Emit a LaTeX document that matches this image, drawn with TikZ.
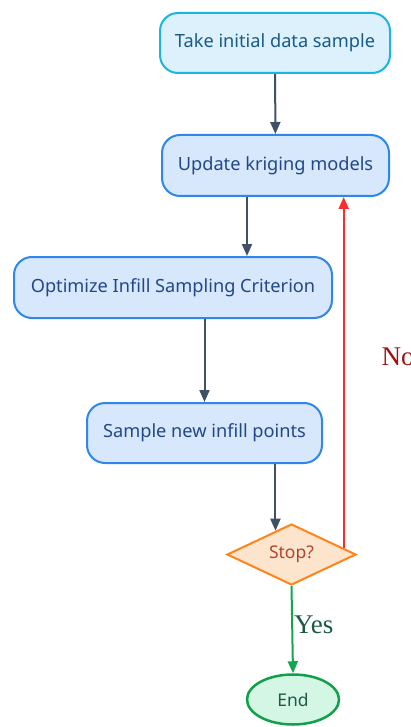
\documentclass[tikz,border=0pt]{standalone}
\usepackage{fontspec}
\newfontfamily\boxfont{Noto Sans}
\newfontfamily\answerfont{Liberation Serif}
\usetikzlibrary{shapes.geometric,arrows.meta}
\definecolor{takefill}{HTML}{DCF1FB}
\definecolor{takeline}{HTML}{19B5E5}
\definecolor{takefont}{HTML}{1B5A86}
\definecolor{stepfill}{HTML}{D7E7FC}
\definecolor{stepline}{HTML}{2F86EB}
\definecolor{stepfont}{HTML}{22488A}
\definecolor{stopfill}{HTML}{FDE4CC}
\definecolor{stopline}{HTML}{FF8419}
\definecolor{stopfont}{HTML}{B0452C}
\definecolor{endfill}{HTML}{D3F7E4}
\definecolor{endline}{HTML}{10A04A}
\definecolor{endfont}{HTML}{1D5A4A}
\definecolor{flowcol}{HTML}{3F5166}
\definecolor{nocol}{HTML}{FF2A2A}
\definecolor{nofont}{HTML}{A01010}
\definecolor{yescol}{HTML}{14A550}
\definecolor{yesfont}{HTML}{1A5A40}
\tikzset{
  stepbox/.style={draw=stepline, fill=stepfill, text=stepfont, line width=2pt, rounded corners=18pt, inner sep=0pt, font=\boxfont\fontsize{18.2}{21}\selectfont},
  flow/.style={draw=flowcol, line width=2pt, -{Triangle[length=12pt,width=10pt]}},
  answer/.style={font=\answerfont\fontsize{27}{30}\selectfont, inner sep=0pt}
}
\begin{document}
\begin{tikzpicture}[x=1pt,y=-1pt]
  \useasboundingbox (0,0) rectangle (411,727);
  \node [stepbox, draw=takeline, fill=takefill, text=takefont, minimum width=230pt, minimum height=60pt] (take) at (275,43) {Take initial data sample};
  \node [stepbox, minimum width=227pt, minimum height=61pt] (update) at (275.5,165.5) {Update kriging models};
  \node [stepbox, minimum width=318pt, minimum height=61pt] (optimize) at (173,287.5) {Optimize Infill Sampling Criterion};
  \node [stepbox, minimum width=235pt, minimum height=60pt] (sample) at (204.5,433) {Sample new infill points};
  \node [diamond, aspect=2.1, draw=stopline, fill=stopfill, text=stopfont, line width=2pt, inner sep=0pt, minimum width=129pt, minimum height=61pt, font=\boxfont\fontsize{17.5}{20}\selectfont] (stop) at (291.5,554.5) {Stop?};
  \node [ellipse, draw=endline, fill=endfill, text=endfont, line width=2.5pt, inner sep=0pt, minimum width=92pt, minimum height=50pt, font=\boxfont\fontsize{17.5}{20}\selectfont] (end) at (293,699.5) {End};
  \draw [flow] (take) -- (update);
  \draw [flow] ([xshift=-28.5pt]update.south) -- ([xshift=-28.5pt]update.south |- optimize.north);
  \draw [flow] (optimize.south -| sample.north) -- (sample.north);
  \draw [flow] (sample.south -| stop.124) -- (stop.124);
  \draw [flow, draw=nocol] (stop.7) -- (stop.7 |- update.south) node [answer, text=nofont, pos=0.545, anchor=west, xshift=37pt] (no) {No};
  \draw [flow, draw=yescol] (stop.south) -- (end.north) node [answer, text=yesfont, pos=0.44, anchor=west, xshift=1pt] (yes) {Yes};
\end{tikzpicture}
\end{document}
